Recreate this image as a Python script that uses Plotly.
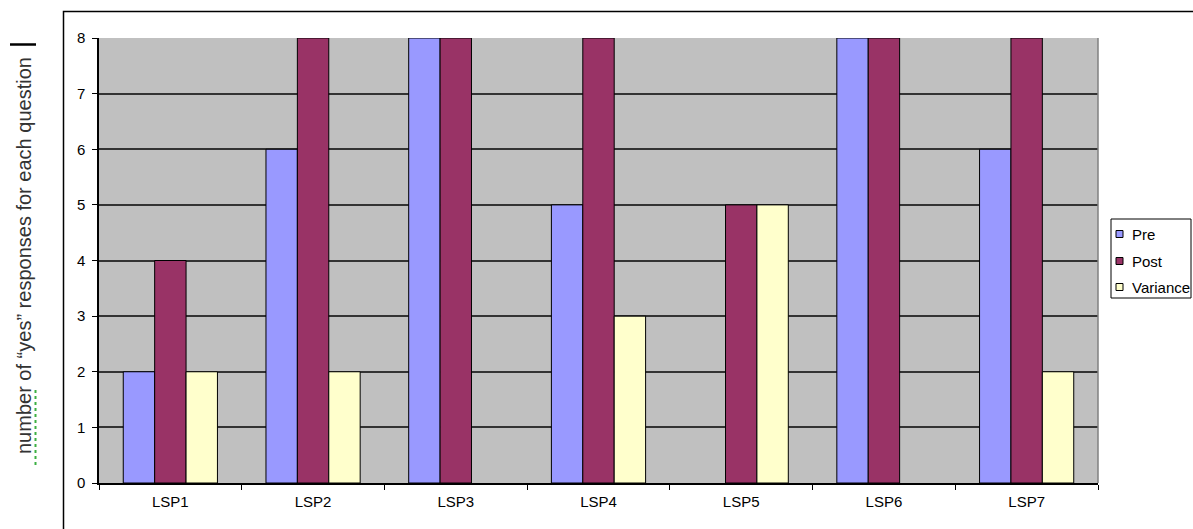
import plotly.graph_objects as go

# Survey results per question
categories = ["LSP1", "LSP2", "LSP3", "LSP4", "LSP5", "LSP6", "LSP7"]
pre = [2, 6, 8, 5, 0, 8, 6]
post = [4, 8, 8, 8, 5, 8, 8]
variance = [2, 2, 0, 3, 5, 0, 2]
series_names = ["Pre", "Post", "Variance"]
y_ticks = [0, 1, 2, 3, 4, 5, 6, 7, 8]

colors = {"Pre": "#9999FF", "Post": "#993366", "Variance": "#FFFFCC"}
FONT = "Arial, Liberation Sans, sans-serif"

W, H = 1193, 529
L, R, T, B = 99, 95, 38, 46
PW, PH = W - L - R, H - T - B


def px(x):
    return (x - L) / PW


def py(y):
    return (H - B - y) / PH


fig = go.Figure()
for name, vals in zip(series_names, [pre, post, variance]):
    # no outline on empty bars so nothing shows on the axis
    widths = [1 if v > 0 else 0 for v in vals]
    fig.add_trace(go.Bar(
        x=categories, y=vals, name=name,
        marker=dict(color=colors[name], line=dict(color="black", width=widths)),
        showlegend=False,
    ))

shapes = [
    # outer chart border
    dict(type="rect", xref="paper", yref="paper",
         x0=px(63.5), y0=py(11.5), x1=px(1210), y1=py(545),
         line=dict(color="black", width=1.5), fillcolor="rgba(0,0,0,0)", layer="below"),
    # right edge of plot area
    dict(type="line", xref="paper", yref="paper", x0=1, x1=1, y0=0, y1=1,
         line=dict(color="#808080", width=1.5)),
    # legend box
    dict(type="rect", xref="paper", yref="paper",
         x0=px(1111), y0=py(219), x1=px(1191), y1=py(298),
         line=dict(color="black", width=1), fillcolor="white"),
    # spell-check underline and cursor on the axis title
    dict(type="line", xref="paper", yref="paper", x0=px(35.5), x1=px(35.5),
         y0=py(390), y1=py(467), line=dict(color="#3cb043", width=2, dash="dot")),
    dict(type="line", xref="paper", yref="paper", x0=px(10), x1=px(36),
         y0=py(44.5), y1=py(44.5), line=dict(color="black", width=2.5)),
]

annotations = [
    dict(text="number of \u201cyes\u201d responses for each question",
         xref="paper", yref="paper", x=px(24), y=py(256),
         textangle=-90, showarrow=False, xanchor="center", yanchor="middle",
         font=dict(family=FONT, size=20, color="#333333")),
]

legend_rows = [234, 261, 287]
for name, yrow in zip(series_names, legend_rows):
    shapes.append(dict(type="rect", xref="paper", yref="paper",
                       x0=px(1116), x1=px(1123), y0=py(yrow - 3.5), y1=py(yrow + 3.5),
                       fillcolor=colors[name], line=dict(color="black", width=1)))
    annotations.append(dict(text=name, xref="paper", yref="paper",
                            x=px(1130), y=py(yrow), xanchor="left", yanchor="middle",
                            showarrow=False, font=dict(family=FONT, size=15, color="black")))

fig.update_layout(
    width=W, height=H,
    margin=dict(l=L, r=R, t=T, b=B, pad=0),
    paper_bgcolor="white",
    plot_bgcolor="#C0C0C0",
    barmode="group",
    bargap=0.34,
    bargroupgap=0,
    showlegend=False,
    font=dict(family=FONT, size=15, color="black"),
    shapes=shapes,
    annotations=annotations,
    xaxis=dict(
        type="category", tickson="boundaries", ticks="outside", ticklen=5,
        tickcolor="black", showline=True, linecolor="black", linewidth=1.5,
        showgrid=False, tickfont=dict(family=FONT, size=15, color="black"),
        ticklabelstandoff=4,
    ),
    yaxis=dict(
        range=[0, 8], tickvals=y_ticks, ticks="outside", ticklen=5,
        tickcolor="black", showline=True, linecolor="black", linewidth=1.5,
        showgrid=True, gridcolor="#333333", gridwidth=1.5, zeroline=False,
        tickfont=dict(family=FONT, size=15, color="black"),
        ticklabelstandoff=4,
    ),
)

fig.write_html("out.html")
